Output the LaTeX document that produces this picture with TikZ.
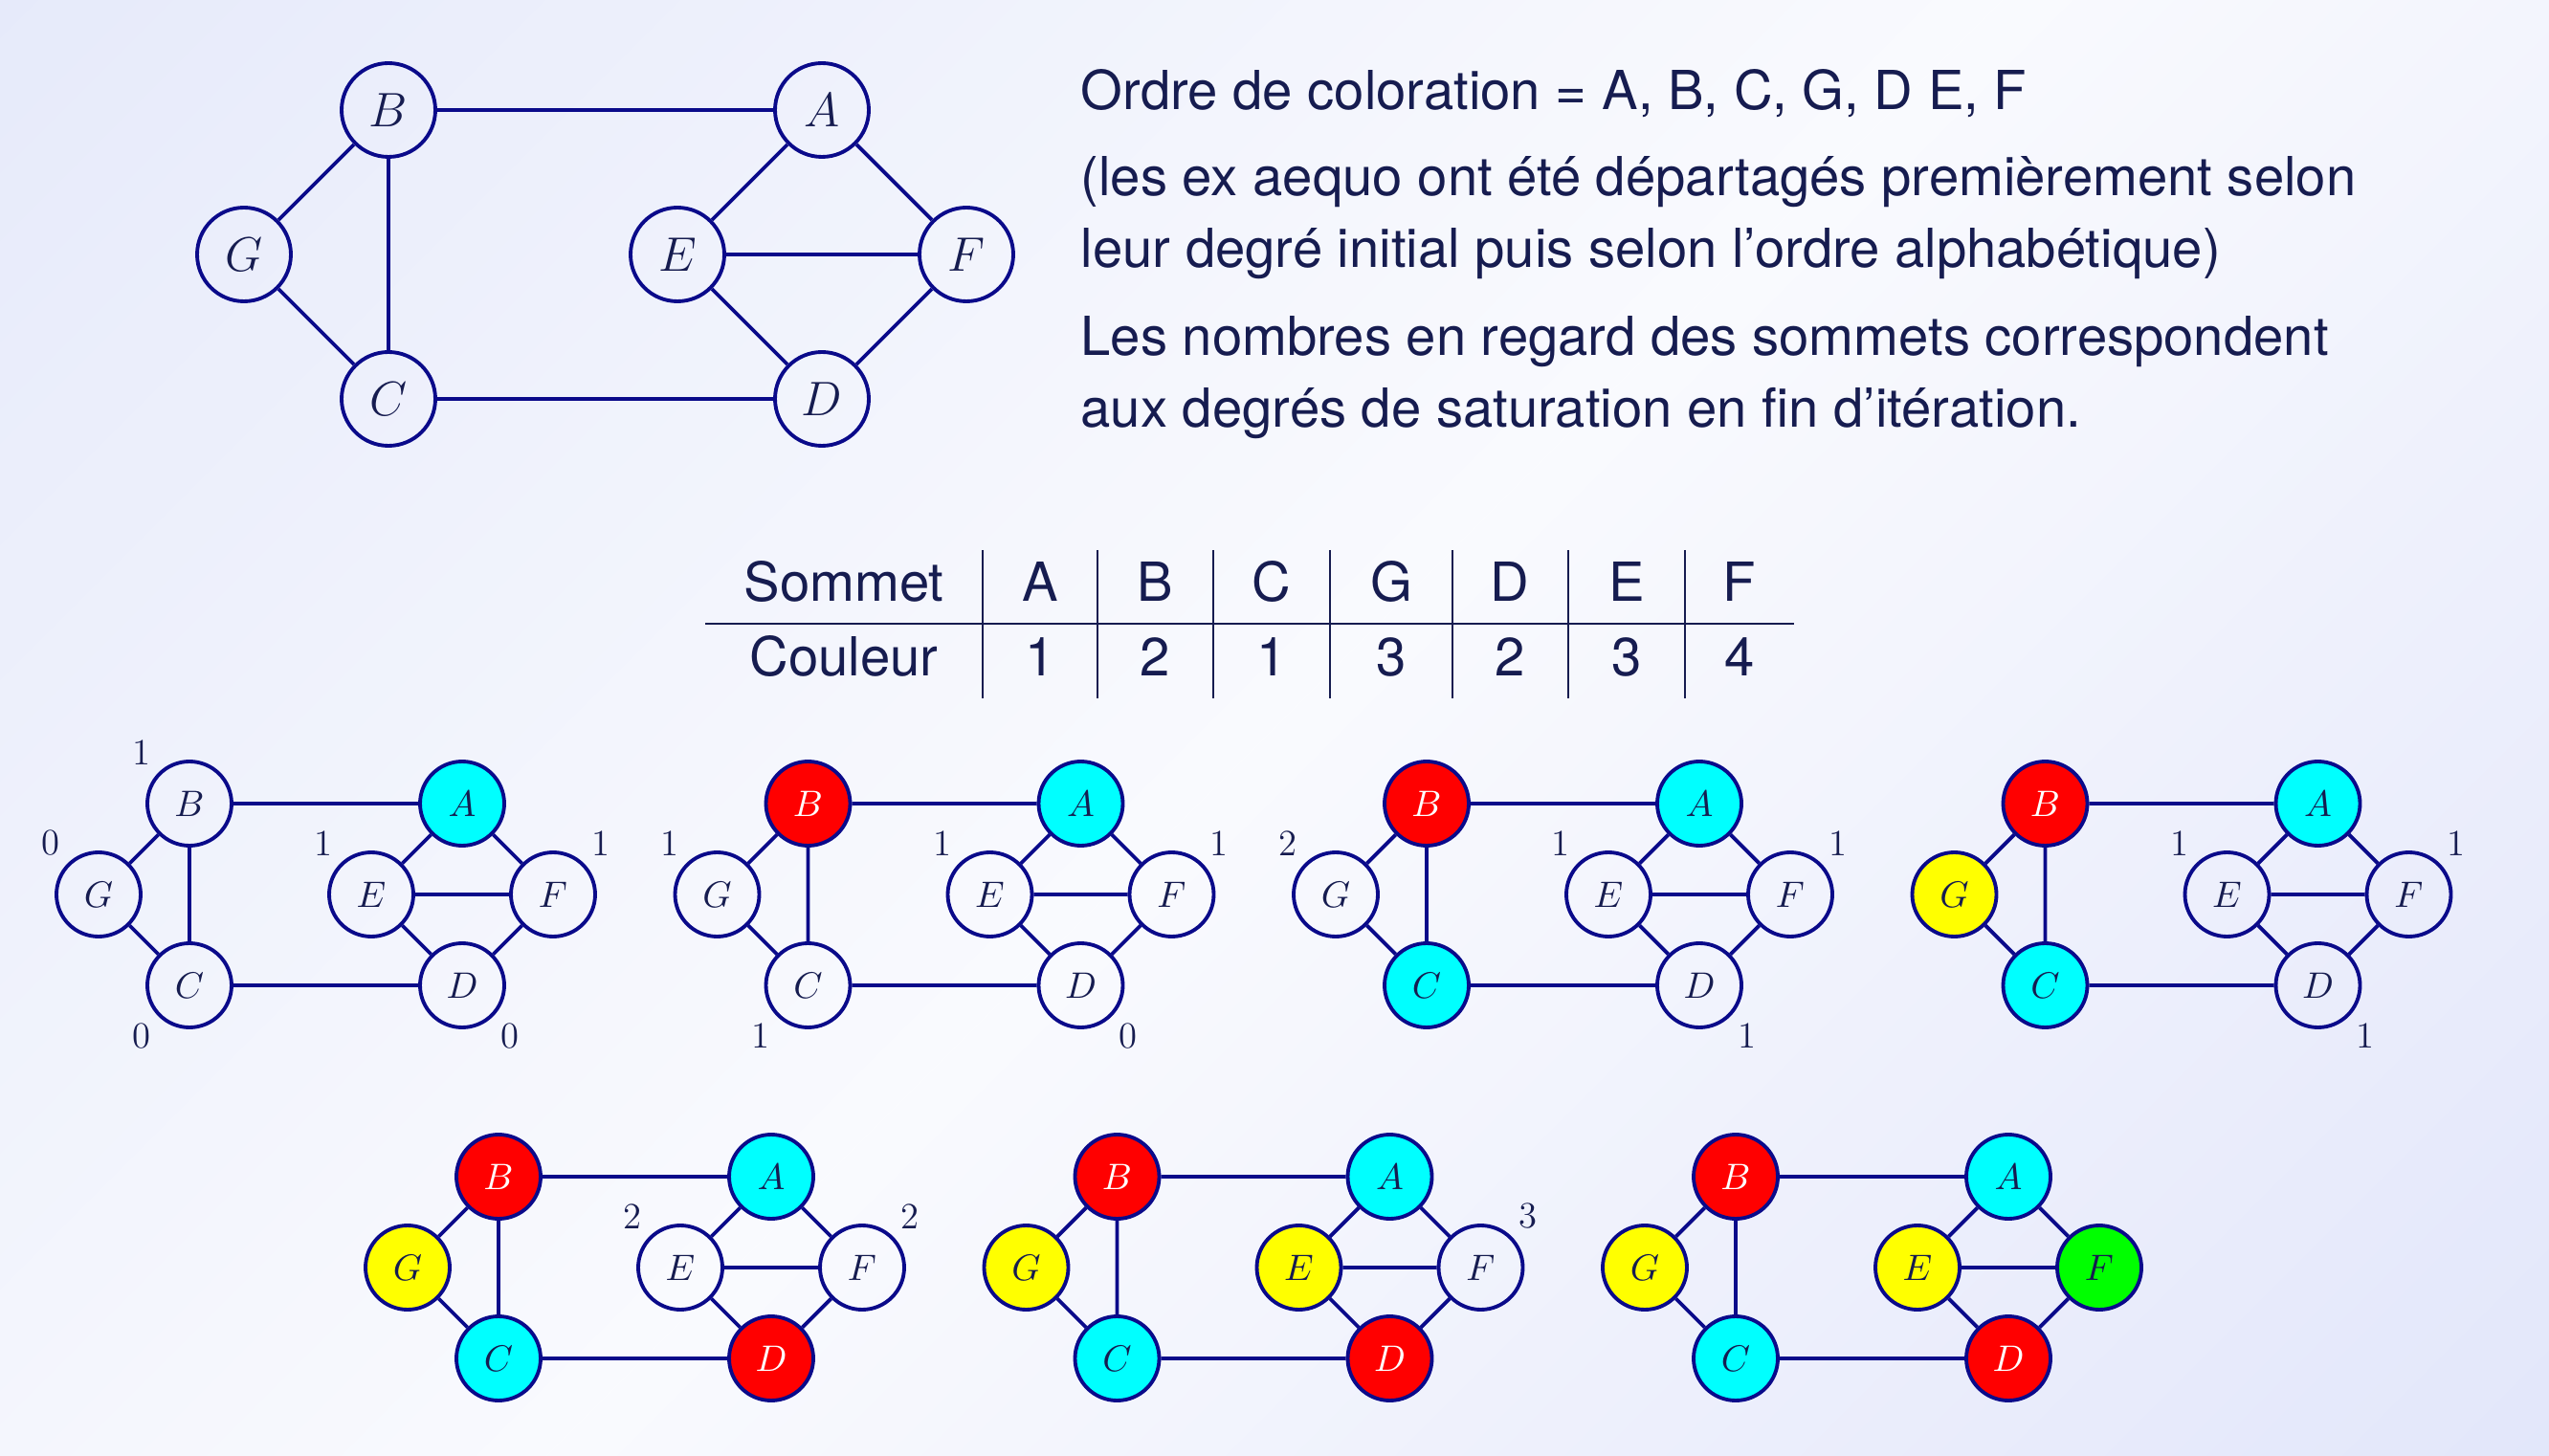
\documentclass[tikz,border=0pt]{standalone}
\usepackage{fontspec}
\setsansfont{TeX Gyre Heros}
\usetikzlibrary{positioning}
\definecolor{encre}{HTML}{161C50}
\definecolor{trait}{HTML}{0A0A8A}
\definecolor{fondA}{HTML}{E6EAFA}
\definecolor{fondB}{HTML}{F9FAFE}
\definecolor{fondC}{HTML}{E2E6FA}
\definecolor{cyanvif}{RGB}{0,255,255}
\definecolor{rougevif}{RGB}{255,0,0}
\definecolor{jaunevif}{RGB}{255,255,0}
\definecolor{vertvif}{RGB}{0,255,0}
\tikzset{
  sommet/.style={circle, draw=trait, line width=1.1pt, inner sep=0pt, text=encre},
  grand/.style={sommet, minimum size=0.98cm, font=\fontsize{14.5}{17}\selectfont},
  petit/.style={sommet, minimum size=0.88cm, font=\fontsize{11.3}{13}\selectfont},
  arete/.style={draw=trait, line width=1.1pt},
  bleu/.style={fill=cyanvif},
  rouge/.style={fill=rougevif, text=white},
  jaune/.style={fill=jaunevif},
  vert/.style={fill=vertvif},
  satur/.style={font=\fontsize{11}{13}\selectfont, text=encre, inner sep=2pt},
  sat/.style={label={[satur]#1}},
  texte/.style={font=\sffamily\fontsize{16}{19}\selectfont, text=encre, anchor=base west, inner sep=0pt},
  cellule/.style={font=\sffamily\fontsize{16}{19}\selectfont, text=encre, anchor=base, inner sep=0pt},
  regle/.style={draw=encre, line width=0.6pt},
}
% un graphe : styles des sommets A, B, C, D, E, F, G
\newcommand{\graphe}[7]{%
  \node[noeud, #1] (A) at (3,0) {$A$};
  \node[noeud, #2] (B) at (0,0) {$B$};
  \node[noeud, #3] (C) at (0,-2) {$C$};
  \node[noeud, #4] (D) at (3,-2) {$D$};
  \node[noeud, #5] (E) at (2,-1) {$E$};
  \node[noeud, #6] (F) at (4,-1) {$F$};
  \node[noeud, #7] (G) at (-1,-1) {$G$};
  \draw[arete] (G) -- (B) (G) -- (C) (B) -- (C) (B) -- (A) (C) -- (D)
    (A) -- (E) (A) -- (F) (E) -- (F) (E) -- (D) (D) -- (F);
}

\begin{document}
\begin{tikzpicture}
  \useasboundingbox (0,0) rectangle (26.64,-15.22);
  % fond en degrade (bandes diagonales)
  \begin{scope}
    \clip (0,0) rectangle (26.64,-15.22);
    \begin{scope}[shift={(13.32,-7.61)}, rotate=45]
      \foreach \t in {15,14.75,...,0} {
        \pgfmathsetmacro\p{min(100,100*\t/14.8)}
        \fill[fondA!\p!fondB] (-20,\t) rectangle (20,\t+0.27);
        \fill[fondC!\p!fondB] (-20,-\t) rectangle (20,-\t-0.27);
      }
    \end{scope}
  \end{scope}

  % graphe de depart
  \begin{scope}[xshift=4.06cm, yshift=-1.15cm, x=1.51cm, y=1.51cm, name prefix=g-, noeud/.style=grand]
    \graphe{}{}{}{}{}{}{}
  \end{scope}

  \node[texte] (t1) at (11.29,-1.15) {Ordre de coloration = A, B, C, G, D E, F};
  \node[texte] (t2) at (11.29,-2.05) {(les ex aequo ont été départagés premièrement selon};
  \node[texte] (t3) at (11.29,-2.80) {leur degré initial puis selon l’ordre alphabétique)};
  \node[texte] (t4) at (11.29,-3.72) {Les nombres en regard des sommets correspondent};
  \node[texte] (t5) at (11.29,-4.47) {aux degrés de saturation en fin d’itération.};

  % tableau
  \node[cellule] (som) at (8.82,-6.29) {Sommet};
  \node[cellule] (cou) at (8.82,-7.07) {Couleur};
  \foreach \s/\c/\x in {A/1/10.87, B/2/12.07, C/1/13.29, G/3/14.54, D/2/15.78, E/3/17.00, F/4/18.18} {
    \node[cellule] (s-\s) at (\x,-6.29) {\s};
    \node[cellule] (c-\s) at (\x,-7.07) {\c};
  }
  \draw[regle] (7.37,-6.52) -- (18.75,-6.52);
  \foreach \x in {10.27, 11.47, 12.68, 13.90, 15.18, 16.39, 17.61}
    \draw[regle] (\x,-5.75) -- (\x,-7.30);

  % etapes
  \begin{scope}[xshift=1.98cm, yshift=-8.40cm, x=0.95cm, y=0.95cm, name prefix=e1-, noeud/.style=petit]
    \graphe{bleu}{sat=135:1}{sat=225:0}{sat=-45:0}{sat=135:1}{sat=45:1}{sat=135:0}
  \end{scope}
  \begin{scope}[xshift=8.445cm, yshift=-8.40cm, x=0.95cm, y=0.95cm, name prefix=e2-, noeud/.style=petit]
    \graphe{bleu}{rouge}{sat=225:1}{sat=-45:0}{sat=135:1}{sat=45:1}{sat=135:1}
  \end{scope}
  \begin{scope}[xshift=14.91cm, yshift=-8.40cm, x=0.95cm, y=0.95cm, name prefix=e3-, noeud/.style=petit]
    \graphe{bleu}{rouge}{bleu}{sat=-45:1}{sat=135:1}{sat=45:1}{sat=135:2}
  \end{scope}
  \begin{scope}[xshift=21.375cm, yshift=-8.40cm, x=0.95cm, y=0.95cm, name prefix=e4-, noeud/.style=petit]
    \graphe{bleu}{rouge}{bleu}{sat=-45:1}{sat=135:1}{sat=45:1}{jaune}
  \end{scope}
  \begin{scope}[xshift=5.21cm, yshift=-12.30cm, x=0.95cm, y=0.95cm, name prefix=e5-, noeud/.style=petit]
    \graphe{bleu}{rouge}{bleu}{rouge}{sat=135:2}{sat=45:2}{jaune}
  \end{scope}
  \begin{scope}[xshift=11.675cm, yshift=-12.30cm, x=0.95cm, y=0.95cm, name prefix=e6-, noeud/.style=petit]
    \graphe{bleu}{rouge}{bleu}{rouge}{jaune}{sat=45:3}{jaune}
  \end{scope}
  \begin{scope}[xshift=18.14cm, yshift=-12.30cm, x=0.95cm, y=0.95cm, name prefix=e7-, noeud/.style=petit]
    \graphe{bleu}{rouge}{bleu}{rouge}{jaune}{vert}{jaune}
  \end{scope}
\end{tikzpicture}
\end{document}
